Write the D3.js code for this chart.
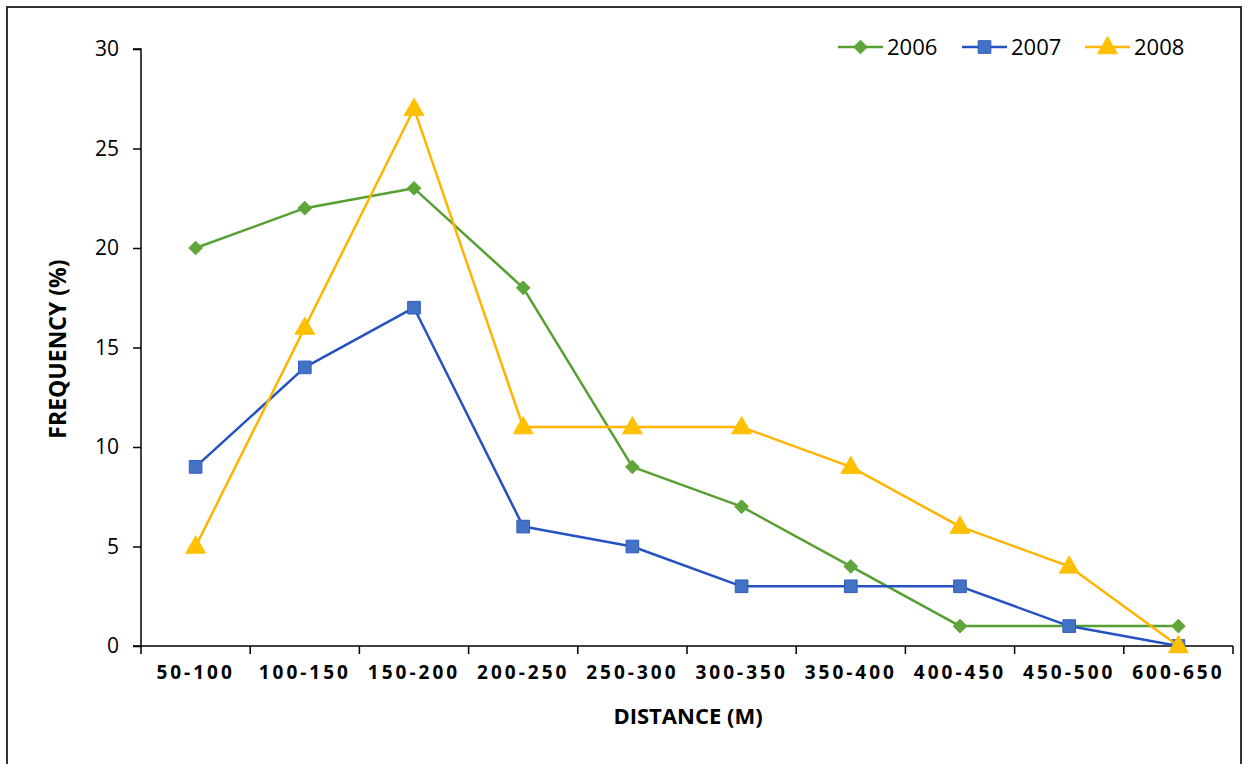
<!DOCTYPE html>
<html>
<head>
<meta charset="utf-8">
<script src="https://cdn.jsdelivr.net/npm/d3@7"></script>
<style>
  html, body { margin: 0; padding: 0; background: #fff; }
  svg { display: block; }
  text { font-family: "Open Sans", "Liberation Sans", sans-serif; fill: #000; }
</style>
</head>
<body>
<svg id="chart" width="1249" height="764"></svg>
<script>
const categories = ["50-100","100-150","150-200","200-250","250-300","300-350","350-400","400-450","450-500","600-650"];
const years = ["2006","2007","2008"];
const values2006 = [20,22,23,18,9,7,4,1,1,1];
const values2007 = [9,14,17,6,5,3,3,3,1,0];
const values2008 = [5,16,27,11,11,11,9,6,4,0];
const yTicks = [0,5,10,15,20,25,30];

const series = [
  {name: years[0], values: values2006, line: "#56A032", fill: "#5EA53A", marker: "diamond"},
  {name: years[1], values: values2007, line: "#2452C2", fill: "#4472C4", marker: "square"},
  {name: years[2], values: values2008, line: "#FFB400", fill: "#FFC000", marker: "triangle"}
];

const svg = d3.select("#chart");

// outer border
svg.append("path")
  .attr("d", "M7,764 L7,7 L1241,7 L1241,764")
  .attr("fill", "none").attr("stroke", "#333").attr("stroke-width", 2);

const mLeft = 141, mRight = 1233, mTop = 49, mBottom = 646;
const x = d3.scaleBand().domain(categories).range([mLeft, mRight]).padding(0);
const y = d3.scaleLinear().domain([0, 30]).range([mBottom, mTop]);

// axes
const yAxis = d3.axisLeft(y).tickValues(yTicks).tickSize(8).tickPadding(14);
const gy = svg.append("g").attr("transform", `translate(${mLeft},0)`).call(yAxis);
gy.select(".domain").attr("stroke", "#000").attr("stroke-width", 1.5).attr("d", `M-8,${mTop}H0V${mBottom}H-8`);
gy.selectAll(".tick line").attr("stroke", "#000").attr("stroke-width", 1.5);
gy.selectAll(".tick text").style("font-size", "21px").style("font-family", "'Open Sans', sans-serif").attr("fill", "#000");

const xAxis = d3.axisBottom(x).tickSize(0).tickPadding(20);
const gx = svg.append("g").attr("transform", `translate(0,${mBottom})`).call(xAxis);
gx.select(".domain").attr("stroke", "#000").attr("stroke-width", 1.5).attr("d", `M${mLeft},0H${mRight}`);
gx.selectAll(".tick text").style("font-size", "19px").style("font-weight", "bold")
  .style("letter-spacing", "3px").style("font-family", "'Open Sans', sans-serif").attr("fill", "#000");
// boundary ticks
const bounds = categories.map(c => x(c)).concat([mRight]);
gx.selectAll(".btick").data(bounds).enter().append("line")
  .attr("class", "btick").attr("x1", d => d).attr("x2", d => d)
  .attr("y1", 0).attr("y2", 8).attr("stroke", "#000").attr("stroke-width", 1.5);

// axis titles
svg.append("text").attr("x", 688).attr("y", 724)
  .attr("text-anchor", "middle").style("font-size", "22px").style("font-weight", "bold")
  .text("DISTANCE (M)");
svg.append("text").attr("transform", `translate(66,349) rotate(-90)`)
  .attr("text-anchor", "middle").style("font-size", "23px").style("font-weight", "bold")
  .text("FREQUENCY (%)");

function markerPath(type) {
  if (type === "diamond") return d3.symbol().type(d3.symbolDiamond2).size(120)();
  if (type === "square") return d3.symbol().type(d3.symbolSquare).size(160)();
  return d3.symbol().type(d3.symbolTriangle).size(170)();
}

const cx = c => x(c) + x.bandwidth() / 2;
const line = d3.line().x((d, i) => cx(categories[i])).y(d => y(d));

series.forEach(s => {
  svg.append("path").datum(s.values).attr("d", line)
    .attr("fill", "none").attr("stroke", s.line).attr("stroke-width", 2.5).attr("stroke-linejoin", "round");
  svg.selectAll(null).data(s.values).enter().append("path")
    .attr("d", markerPath(s.marker))
    .attr("transform", (d, i) => `translate(${cx(categories[i])},${y(d) + (s.marker === "triangle" ? 1 : 0)})`)
    .attr("fill", s.fill).attr("stroke", s.marker === "square" ? "#2F5DBF" : s.fill).attr("stroke-width", 1);
});

// legend
const legendX = [838, 962, 1085];
series.forEach((s, i) => {
  const g = svg.append("g").attr("transform", `translate(${legendX[i]},47)`);
  g.append("line").attr("x1", 0).attr("x2", 45).attr("stroke", s.line).attr("stroke-width", 2.5);
  g.append("path").attr("d", markerPath(s.marker)).attr("transform", `translate(22.5,${s.marker === "triangle" ? 1 : 0})`)
    .attr("fill", s.fill).attr("stroke", s.marker === "square" ? "#2F5DBF" : s.fill);
  g.append("text").attr("x", 49).attr("y", 8).style("font-size", "22px").text(s.name);
});
</script>
</body>
</html>
